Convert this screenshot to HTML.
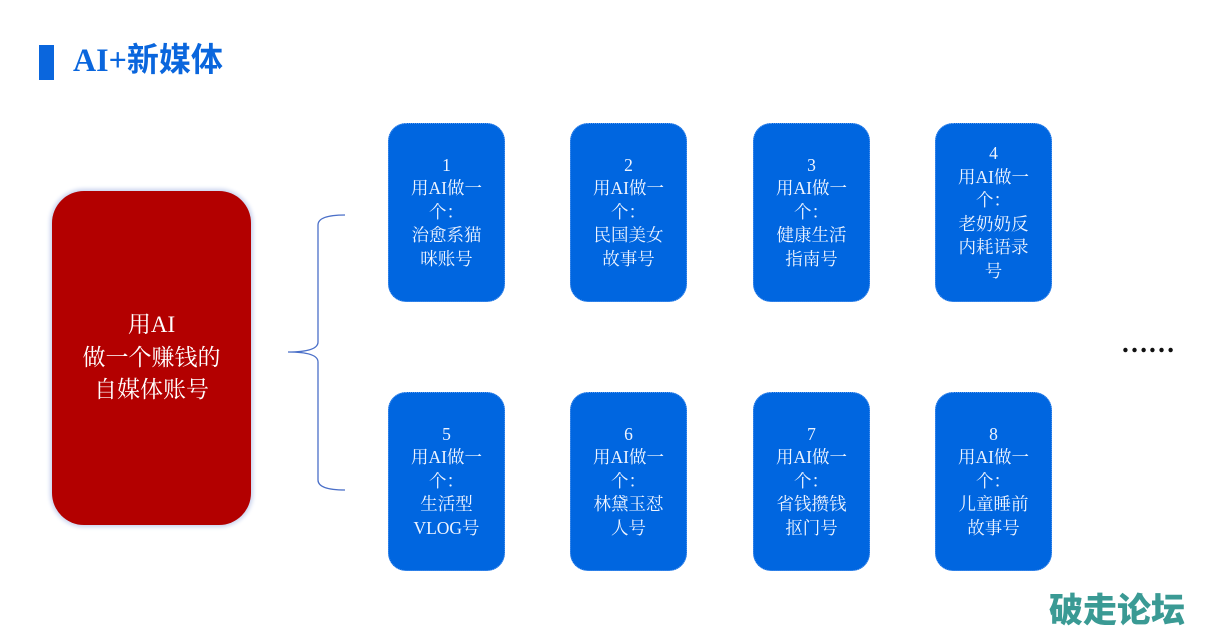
<!DOCTYPE html>
<html><head><meta charset="utf-8"><style>
body{margin:0;width:1205px;height:632px;background:#fff;position:relative;overflow:hidden;font-family:"Liberation Serif","Noto Serif CJK SC",serif}
.bar{position:absolute;left:39px;top:45px;width:15px;height:35px;background:#0a66dd}
.title{position:absolute;left:73px;top:39px;font-size:33px;color:#0a66dd;line-height:44px;font-family:"Liberation Serif","Noto Sans CJK SC",sans-serif;font-weight:bold;transform:scaleX(0.97);transform-origin:left}
.red{position:absolute;left:52px;top:191px;width:199px;height:334px;background:#b30000;border-radius:32px;box-shadow:0 0 4px 2px #c8d2ee;color:#fff;font-size:23px;line-height:32.5px;text-align:center;display:flex;align-items:center;justify-content:center}
.b{position:absolute;width:115px;height:177px;background:#0066e0;border:1px dotted #5a9af0;border-radius:18px;color:#eef4ff;font-size:17.5px;line-height:23.5px;text-align:center;display:flex;align-items:center;justify-content:center}
.dots{position:absolute;left:1121px;top:328px;font-size:27px;font-weight:bold;color:#111;letter-spacing:0px}
.wm{position:absolute;left:1049px;top:586px;font-family:"Noto Sans CJK SC",sans-serif;font-weight:900;font-size:34px;color:#3a9a94;line-height:44px}
</style></head><body>
<div class="bar"></div><div class="title">AI+新媒体</div>
<div class="red"><div>用AI<br>做一个赚钱的<br>自媒体账号</div></div>
<svg style="position:absolute;left:0;top:0" width="1205" height="632"><path d="M345 215 Q318 215 318 225 L318 342 Q318 352 288 352 Q318 352 318 362 L318 480 Q318 490 345 490" fill="none" stroke="#4a6fc8" stroke-width="1.3"/></svg>
<div class="b" style="left:388px;top:123px"><div>1<br>用AI做一<br>个：<br>治愈系猫<br>咪账号</div></div>
<div class="b" style="left:570px;top:123px"><div>2<br>用AI做一<br>个：<br>民国美女<br>故事号</div></div>
<div class="b" style="left:753px;top:123px"><div>3<br>用AI做一<br>个：<br>健康生活<br>指南号</div></div>
<div class="b" style="left:935px;top:123px"><div>4<br>用AI做一<br>个：<br>老奶奶反<br>内耗语录<br>号</div></div>
<div class="b" style="left:388px;top:392px"><div>5<br>用AI做一<br>个：<br>生活型<br>VLOG号</div></div>
<div class="b" style="left:570px;top:392px"><div>6<br>用AI做一<br>个：<br>林黛玉怼<br>人号</div></div>
<div class="b" style="left:753px;top:392px"><div>7<br>用AI做一<br>个：<br>省钱攒钱<br>抠门号</div></div>
<div class="b" style="left:935px;top:392px"><div>8<br>用AI做一<br>个：<br>儿童睡前<br>故事号</div></div>
<div class="dots">……</div>
<div class="wm">破走论坛</div>
</body></html>
